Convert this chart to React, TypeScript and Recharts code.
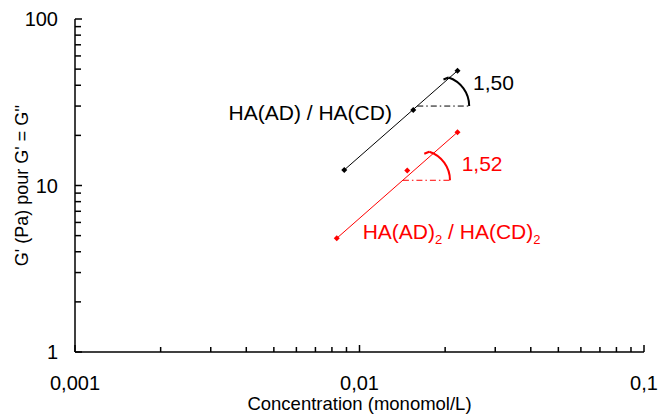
import { ScatterChart, Scatter, XAxis, YAxis, ReferenceLine, ReferenceDot } from "recharts";

const FONT = "'Liberation Sans', Arial, sans-serif";
const RED = "#ff0000";

// log axis ticks (minor ticks have no label)
const xTicks = [
  0.001, 0.002, 0.003, 0.004, 0.005, 0.006, 0.007, 0.008, 0.009,
  0.01, 0.02, 0.03, 0.04, 0.05, 0.06, 0.07, 0.08, 0.09, 0.1,
];
const xLabels: Record<string, string> = { "0.001": "0,001", "0.01": "0,01", "0.1": "0,1" };
const yTicks = [1, 2, 3, 4, 5, 6, 7, 8, 9, 10, 20, 30, 40, 50, 60, 70, 80, 90, 100];
const yLabels: Record<string, string> = { "1": "1", "10": "10", "100": "100" };

// HA(AD) / HA(CD)
const blackPoints = [
  { x: 0.00884, y: 12.4 },
  { x: 0.01545, y: 28.4 },
  { x: 0.0221, y: 48.9 },
];
const blackFit = [
  { x: 0.00884, y: 12.4 },
  { x: 0.0221, y: 48.9 },
];
// HA(AD)2 / HA(CD)2
const redPoints = [
  { x: 0.00832, y: 4.82 },
  { x: 0.01472, y: 12.3 },
  { x: 0.0221, y: 20.9 },
];
const redFit = [
  { x: 0.00832, y: 4.82 },
  { x: 0.0221, y: 20.9 },
];

// slope annotations: horizontal dash-dot from the fit line, arc, value
const blackAngle = { x1: 0.01596, x2: 0.0243, y: 30, text: "1,50", tx: 0.02506, ty: 41.3 };
const redAngle = { x1: 0.01421, x2: 0.0208, y: 10.75, text: "1,52", tx: 0.02286, ty: 13.6 };

const X_MARGIN = 24;
const Y_MARGIN = 17;

const XTick = (props: any) => {
  const { x, y, payload } = props;
  const axisY = y - X_MARGIN;
  const label = xLabels[String(payload.value)];
  return (
    <g>
      <line x1={x} x2={x} y1={axisY} y2={axisY - (label ? 7 : 5)} stroke="#000" strokeWidth={1.5} />
      {label && (
        <text x={x} y={y} dy="0.71em" textAnchor="middle" fill="#000" fontSize={20} fontFamily={FONT}>
          {label}
        </text>
      )}
    </g>
  );
};

const YTick = (props: any) => {
  const { x, y, payload } = props;
  const axisX = x + Y_MARGIN;
  const label = yLabels[String(payload.value)];
  return (
    <g>
      <line x1={axisX} x2={axisX + (label ? 7 : 6)} y1={y} y2={y} stroke="#000" strokeWidth={1.5} />
      {label && (
        <text x={x} y={y} dy="0.36em" textAnchor="end" fill="#000" fontSize={20} fontFamily={FONT}>
          {label}
        </text>
      )}
    </g>
  );
};

const Diamond = (color: string) => (props: any) => {
  const { cx, cy } = props;
  if (cx == null || cy == null) return <g />;
  const s = 3;
  return (
    <polygon
      points={`${cx},${cy - s} ${cx + s},${cy} ${cx},${cy + s} ${cx - s},${cy}`}
      fill={color}
    />
  );
};

const NoDot = () => <g />;

const Arc = (color: string) => (props: any) => {
  const { cx, cy } = props;
  const r = 30;
  const phi = (72 * Math.PI) / 180;
  const ox = cx - r;
  const sx = ox + r * Math.cos(phi);
  const sy = cy - r * Math.sin(phi);
  return (
    <g fill="none" stroke={color} strokeWidth={2}>
      <path d={`M ${sx} ${sy} A ${r} ${r} 0 0 1 ${cx} ${cy}`} />
      <line x1={sx - 5} y1={sy + 2} x2={sx} y2={sy} />
    </g>
  );
};

const TextMark =
  (color: string, anchor: "start" | "end", content: React.ReactNode) => (props: any) => {
    const { cx, cy } = props;
    return (
      <text
        x={cx}
        y={cy}
        dy="0.35em"
        textAnchor={anchor}
        fill={color}
        fontSize={21}
        fontFamily={FONT}
      >
        {content}
      </text>
    );
  };

export default function App() {
  return (
    <div style={{ position: "absolute", left: 0, top: 0, width: 658, height: 414, background: "#fff" }}>
      <ScatterChart width={658} height={414} margin={{ top: 19, right: 14, bottom: 0, left: 0 }}>
        <XAxis
          type="number"
          dataKey="x"
          scale="log"
          domain={[0.001, 0.1]}
          allowDataOverflow
          ticks={xTicks}
          interval={0}
          tick={XTick}
          tickSize={0}
          tickMargin={X_MARGIN}
          tickLine={false}
          axisLine={{ stroke: "#000", strokeWidth: 1.5 }}
          height={62}
          label={{
            value: "Concentration (monomol/L)",
            position: "insideBottom",
            offset: 4,
            style: { fill: "#000", fontSize: 18.5, fontFamily: FONT },
          }}
        />
        <XAxis
          xAxisId="top"
          orientation="top"
          type="number"
          scale="log"
          domain={[0.001, 0.1]}
          allowDataOverflow
          tick={false}
          tickLine={false}
          height={0}
          axisLine={{ stroke: "#888", strokeWidth: 1 }}
        />
        <YAxis
          type="number"
          dataKey="y"
          scale="log"
          domain={[1, 100]}
          allowDataOverflow
          ticks={yTicks}
          interval={0}
          tick={YTick}
          tickSize={0}
          tickMargin={Y_MARGIN}
          tickLine={false}
          axisLine={{ stroke: "#000", strokeWidth: 1.5 }}
          width={75}
          label={{
            value: "G' (Pa) pour G' = G''",
            angle: -90,
            position: "insideLeft",
            offset: 22,
            style: { fill: "#000", fontSize: 18, fontFamily: FONT, textAnchor: "middle" },
          }}
        />
        <YAxis
          yAxisId="right"
          orientation="right"
          type="number"
          scale="log"
          domain={[1, 100]}
          allowDataOverflow
          tick={false}
          tickLine={false}
          width={0}
          axisLine={{ stroke: "#000", strokeWidth: 1.5 }}
        />

        <Scatter data={blackFit} line={{ stroke: "#000", strokeWidth: 1 }} shape={NoDot} isAnimationActive={false} />
        <Scatter data={redFit} line={{ stroke: RED, strokeWidth: 1 }} shape={NoDot} isAnimationActive={false} />
        <Scatter data={blackPoints} shape={Diamond("#000")} isAnimationActive={false} />
        <Scatter data={redPoints} shape={Diamond(RED)} isAnimationActive={false} />

        {[
          { a: blackAngle, color: "#000" },
          { a: redAngle, color: RED },
        ].map(({ a, color }) => (
          <ReferenceLine
            key={"h" + a.text}
            segment={[
              { x: a.x1, y: a.y },
              { x: a.x2, y: a.y },
            ]}
            stroke={color}
            strokeWidth={1}
            strokeDasharray="6 3 1.5 3"
          />
        ))}
        <ReferenceDot x={blackAngle.x2} y={blackAngle.y} shape={Arc("#000")} />
        <ReferenceDot x={redAngle.x2} y={redAngle.y} shape={Arc(RED)} />
        <ReferenceDot
          x={blackAngle.tx}
          y={blackAngle.ty}
          shape={TextMark("#000", "start", blackAngle.text)}
        />
        <ReferenceDot
          x={redAngle.tx}
          y={redAngle.ty}
          shape={TextMark(RED, "start", redAngle.text)}
        />
        <ReferenceDot
          x={0.013}
          y={27.3}
          shape={TextMark("#000", "end", "HA(AD) / HA(CD)")}
        />
        <ReferenceDot
          x={0.01026}
          y={5.28}
          shape={TextMark(
            RED,
            "start",
            <>
              HA(AD)
              <tspan fontSize={13} dy={5}>2</tspan>
              <tspan dy={-5}> / HA(CD)</tspan>
              <tspan fontSize={13} dy={5}>2</tspan>
            </>
          )}
        />
      </ScatterChart>
    </div>
  );
}
